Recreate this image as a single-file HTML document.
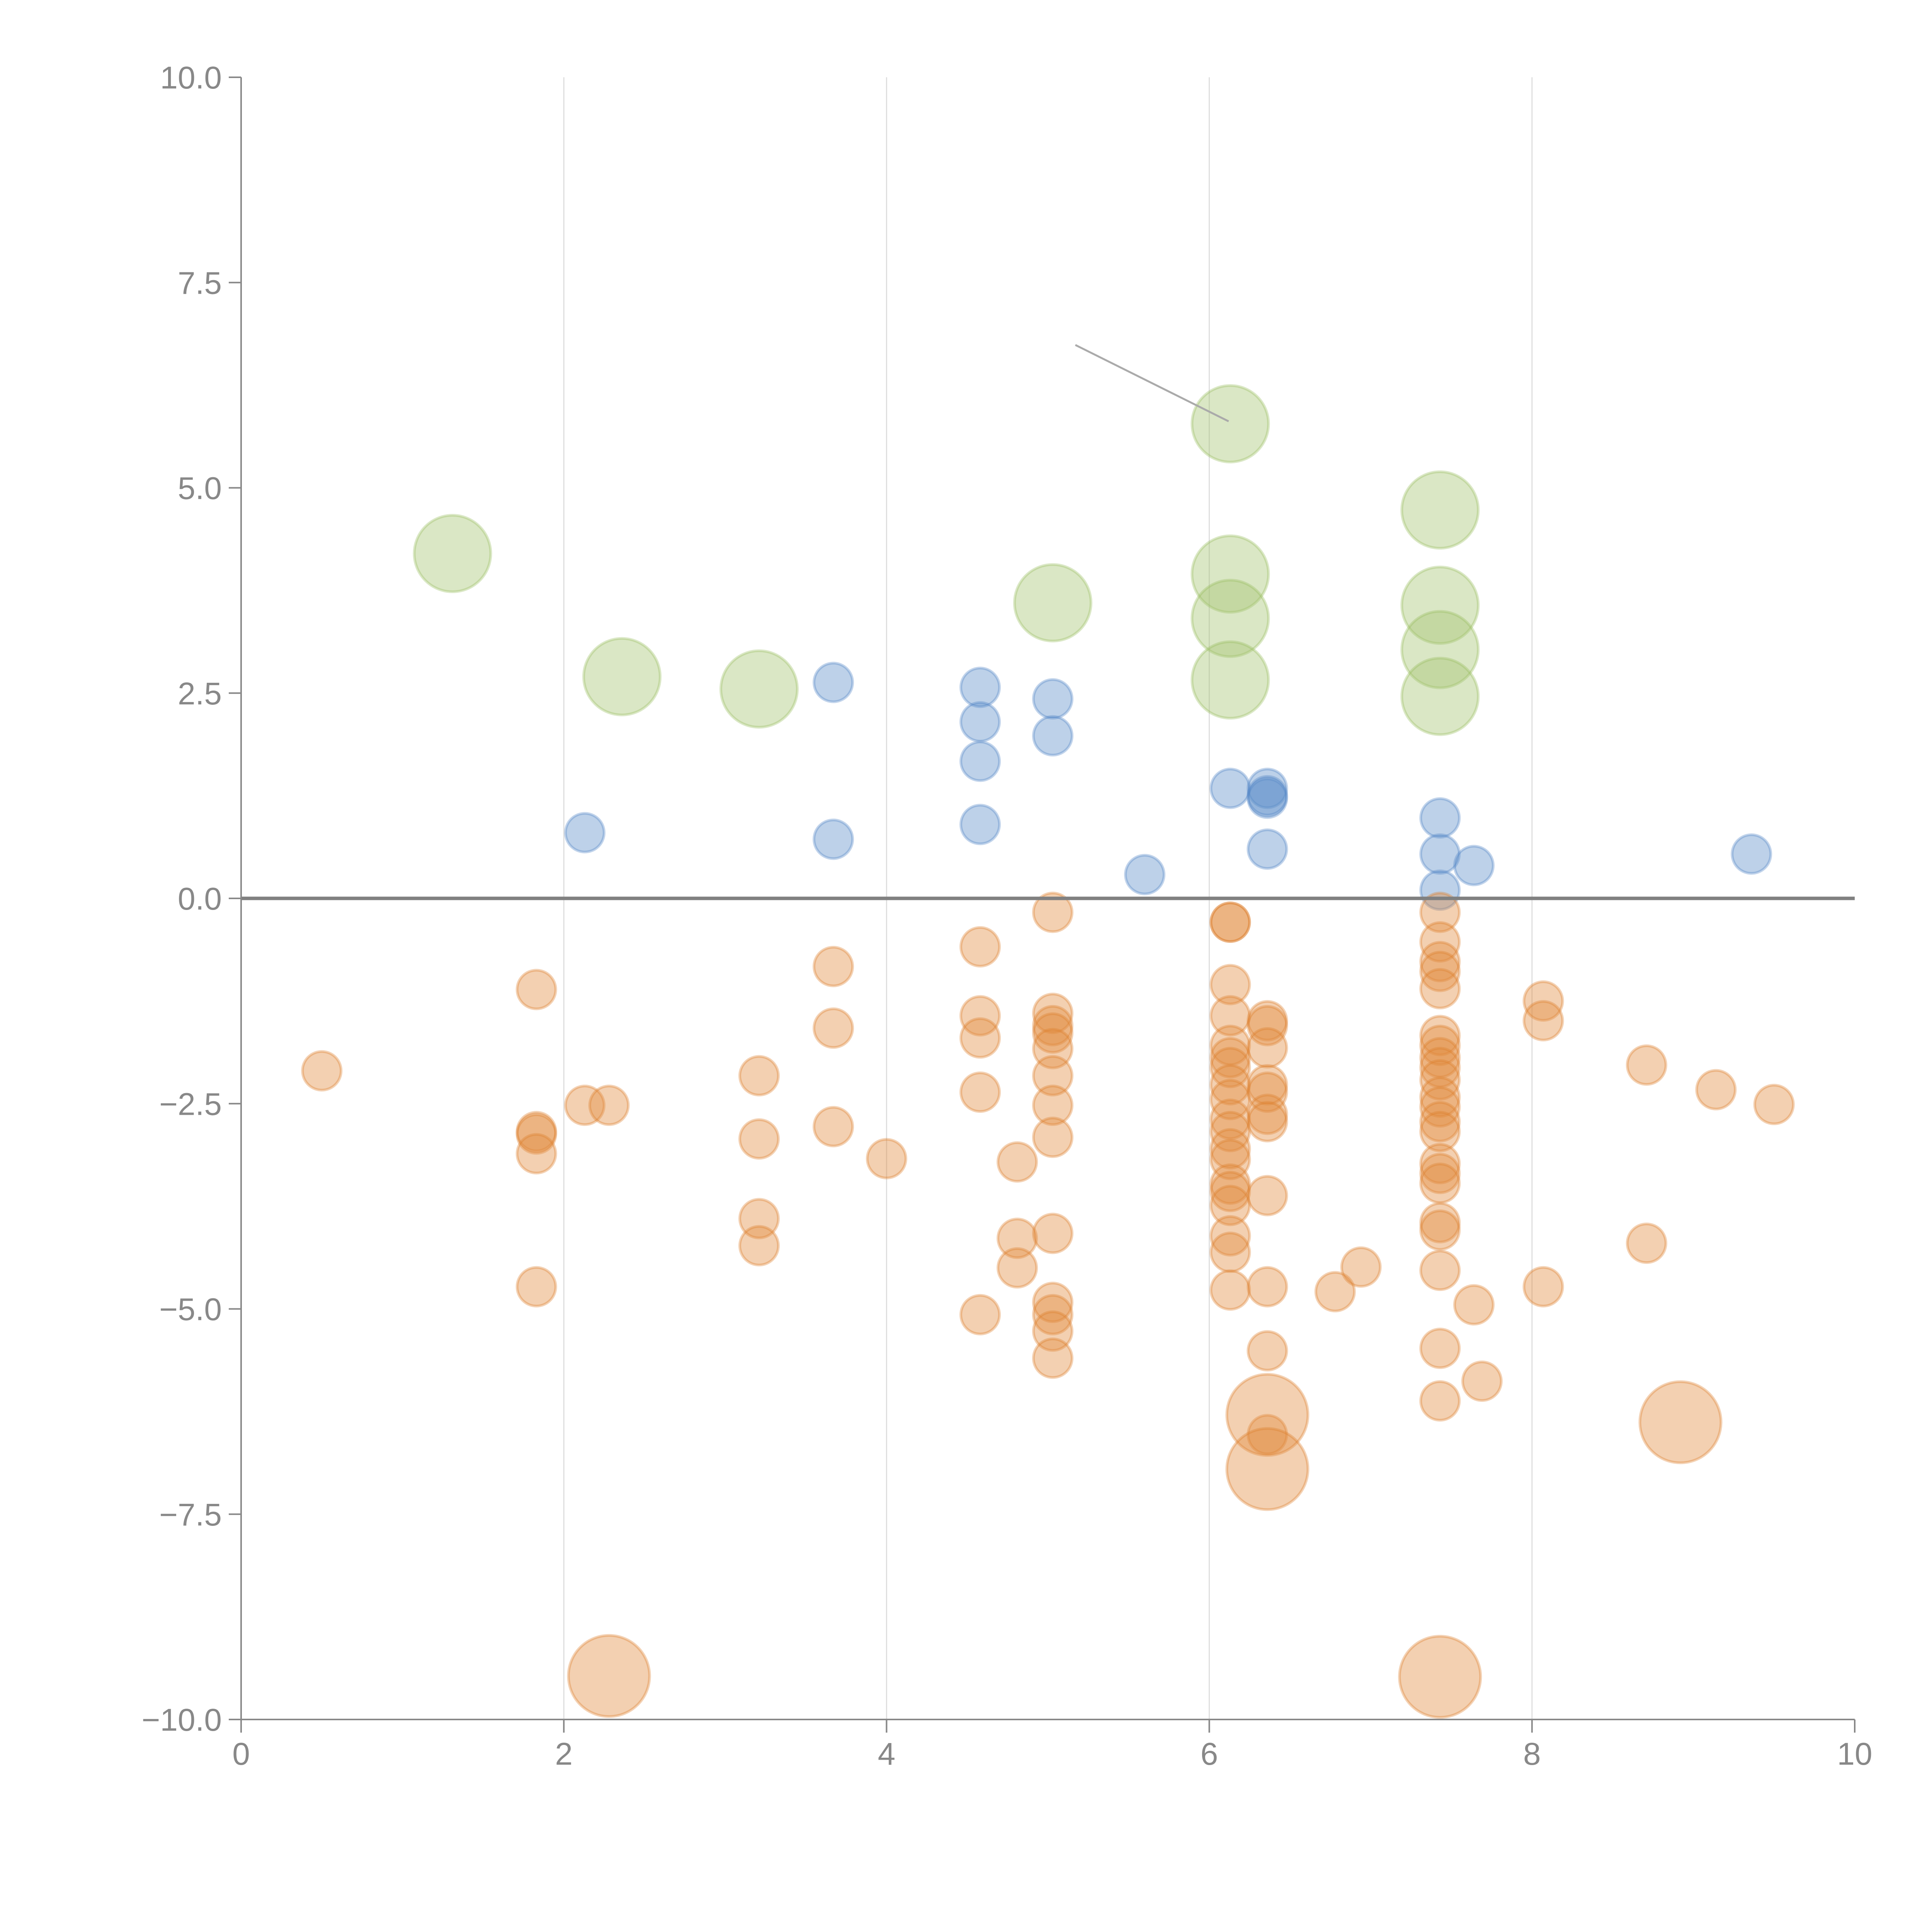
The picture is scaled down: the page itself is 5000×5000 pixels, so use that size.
<!DOCTYPE html>
<html><head><meta charset="utf-8"><style>
html,body{margin:0;padding:0;background:#fff;}
svg{display:block;}
text{font-family:"Liberation Sans",sans-serif;fill:#888;font-size:82px;}
</style></head><body>
<svg id="chart" width="5000" height="5000" viewBox="0 0 5000 5000" xmlns="http://www.w3.org/2000/svg">
<g id="grid"></g>
<g id="marks"></g>
<g id="axes"></g>
</svg>
<script>
const xTicks=[0,2,4,6,8,10];
const yTicks=[10,7.5,5,2.5,0,-2.5,-5,-7.5,-10];
const yTickLabels=["10.0","7.5","5.0","2.5","0.0","\u22122.5","\u22125.0","\u22127.5","\u221210.0"];
const greenX=[1.31,2.36,3.21,5.03,6.13,6.13,6.13,6.13,7.43,7.43,7.43,7.43];
const greenY=[4.20,2.70,2.55,3.60,5.78,3.95,3.41,2.66,4.73,3.57,3.03,2.46];
const blueX=[2.13,3.67,3.67,4.58,4.58,4.58,4.58,5.03,5.03,5.60,6.13,6.36,6.36,6.36,6.36,7.43,7.43,7.43,7.64,9.36];
const blueY=[0.80,2.63,0.72,2.57,2.15,1.67,0.90,2.43,1.98,0.29,1.34,1.34,1.22,1.25,0.60,0.98,0.54,0.10,0.40,0.54];
const orangeX=[0.50,1.83,1.83,1.83,1.83,1.83,2.13,2.28,3.21,3.21,3.21,3.21,3.67,3.67,3.67,4.00,
4.58,4.58,4.58,4.58,4.58,4.81,4.81,4.81,
5.03,5.03,5.03,5.03,5.03,5.03,5.03,5.03,5.03,5.03,5.03,5.03,5.03,
6.13,6.13,6.13,6.13,6.13,6.13,6.13,6.13,6.13,6.13,6.13,6.13,6.13,6.13,6.13,6.13,6.13,6.13,6.13,
6.36,6.36,6.36,6.36,6.36,6.36,6.36,6.36,6.36,6.36,6.36,6.78,6.94,
7.43,7.43,7.43,7.43,7.43,7.43,7.43,7.43,7.43,7.43,7.43,7.43,7.43,7.43,7.43,7.43,7.43,7.43,7.43,7.43,7.43,7.43,
7.64,7.69,8.07,8.07,8.07,8.71,8.71,9.14,9.50];
const orangeY=[-2.10,-1.11,-2.84,-2.87,-3.11,-4.73,-2.52,-2.52,-2.16,-2.93,-3.90,-4.23,-0.83,-1.58,-2.78,-3.17,
-0.59,-1.43,-1.70,-2.36,-5.07,-3.21,-4.14,-4.50,
-0.17,-1.40,-1.55,-1.64,-1.83,-2.16,-2.52,-2.91,-4.08,-4.92,-5.07,-5.27,-5.60,
-0.29,-0.29,-1.05,-1.43,-1.79,-1.94,-2.06,-2.27,-2.45,-2.69,-2.84,-3.05,-3.18,-3.48,-3.57,-3.74,-4.11,-4.31,-4.77,
-1.49,-1.55,-1.82,-2.27,-2.36,-2.63,-2.72,-3.62,-4.73,-5.51,-6.53,-4.79,-4.49,
-0.17,-0.53,-0.77,-0.89,-1.10,-1.67,-1.79,-1.94,-2.06,-2.21,-2.42,-2.54,-2.72,-2.84,-3.23,-3.35,-3.47,-3.95,-4.04,-4.53,-5.48,-6.12,
-4.95,-5.88,-1.25,-1.49,-4.73,-2.03,-4.20,-2.33,-2.51];
const bigOrangeX=[2.28,6.36,6.36,7.43,8.92];
const bigOrangeY=[-9.47,-6.29,-6.95,-9.48,-6.38];
const annotX=[5.17,6.12];
const annotY=[6.74,5.81];

const NS="http://www.w3.org/2000/svg";
const L=624,R=4800,T=200,B=4450;
const sx=v=>L+(v-0)/(10-0)*(R-L);
const sy=v=>B-(v+10)/20*(B-T);
function mk(tag,attrs,parent){const e=document.createElementNS(NS,tag);for(const k in attrs)e.setAttribute(k,attrs[k]);parent.appendChild(e);return e;}
const grid=document.getElementById('grid'),marks=document.getElementById('marks'),axes=document.getElementById('axes');

xTicks.forEach(t=>{if(t>0&&t<10){const g=mk('line',{x1:sx(t),x2:sx(t),y1:T,y2:B,stroke:'#dedede','stroke-width':3},grid);

}});

function draw(xs,ys,r,fill,stroke,name){
 xs.forEach((x,i)=>{const c=mk('circle',{cx:sx(x),cy:sy(ys[i]),r:r,fill:fill,'fill-opacity':0.4,stroke:stroke,'stroke-opacity':0.35,'stroke-width':7},marks);
 
 });
}
draw(greenX,greenY,99,'#a3c46e','#98bd5e','bubble-green');
draw(blueX,blueY,50,'#5b8cc8','#4f83c6','bubble-blue');
draw(orangeX,orangeY,50,'#e08a3c','#de7f2c','bubble-orange');
draw(bigOrangeX,bigOrangeY,105,'#e08a3c','#de7f2c','bubble-orange-large');

const an=mk('line',{x1:sx(annotX[0]),y1:sy(annotY[0]),x2:sx(annotX[1]),y2:sy(annotY[1]),stroke:'#aaa','stroke-width':5},marks);



const zl=mk('line',{x1:L,x2:R,y1:sy(0),y2:sy(0),stroke:'#808080','stroke-width':9},axes);


const ya=mk('line',{x1:L,x2:L,y1:T,y2:B,stroke:'#888','stroke-width':4},axes);


const xa=mk('line',{x1:L,x2:R,y1:B,y2:B,stroke:'#888','stroke-width':4},axes);



yTicks.forEach((t,i)=>{
 const tk=mk('line',{x1:L-32,x2:L,y1:sy(t),y2:sy(t),stroke:'#888','stroke-width':4},axes);
 
 
 const tx=mk('text',{x:L-50,y:sy(t)+29,'text-anchor':'end'},axes);
 tx.textContent=yTickLabels[i];
 
 
});
xTicks.forEach(t=>{
 const tk=mk('line',{x1:sx(t),x2:sx(t),y1:B,y2:B+34,stroke:'#888','stroke-width':4},axes);
 
 
 const tx=mk('text',{x:sx(t),y:4567,'text-anchor':'middle'},axes);
 tx.textContent=String(t);
 
 
});
</script>
</body></html>
